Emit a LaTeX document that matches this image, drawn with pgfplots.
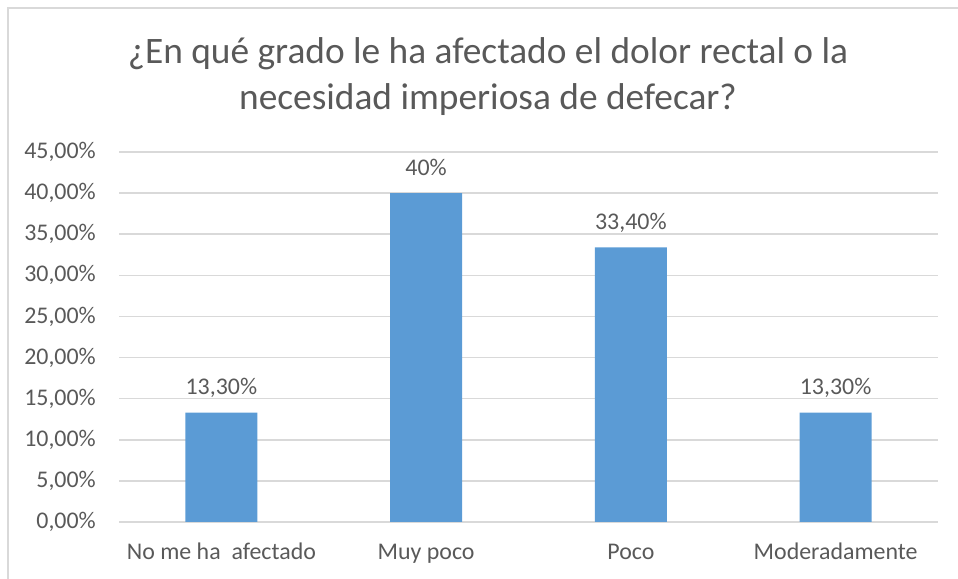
\documentclass[border=0pt]{standalone}
\usepackage{pgfplots}
\pgfplotsset{compat=1.18}
\usepackage{fontspec}
\setmainfont{Carlito}
\definecolor{txt}{HTML}{595959}
\definecolor{barc}{HTML}{5B9BD5}
\definecolor{gridc}{HTML}{D9D9D9}
\begin{document}
\begin{tikzpicture}[x=1bp,y=1bp]
\useasboundingbox (0,0) rectangle (958,579);
\draw[gridc, line width=1.5bp] (8,0) -- (8,571) -- (958,571);
\node[txt, font=\fontsize{37.5}{46}\selectfont, anchor=base, inner sep=0] at (488,515) {¿En qué grado le ha afectado el dolor rectal o la};
\node[txt, font=\fontsize{37.5}{46}\selectfont, anchor=base, inner sep=0] at (488,469) {necesidad imperiosa de defecar?};
\begin{axis}[
  at={(119bp,57bp)}, anchor=south west,
  scale only axis, width=819bp, height=370bp,
  xmin=-0.5, xmax=3.5, ymin=0, ymax=45,
  xtick={0,1,2,3},
  xticklabels={No me ha\ \ afectado, Muy poco, Poco, Moderadamente},
  ytick={0,5,...,45},
  axis line style={draw=none},
  major tick length=0pt,
  ymajorgrids, grid style={gridc, line width=1.5bp},
  /pgf/number format/assume math mode=true,
  yticklabel={\pgfmathprintnumber[fixed,fixed zerofill,precision=2,use comma]{\tick}\%},
  yticklabel style={txt, font=\fontsize{24}{28}\selectfont, anchor=east, inner sep=0pt, xshift=-23bp},
  xticklabel style={txt, font=\fontsize{24}{28}\selectfont, anchor=base, inner sep=0pt, yshift=-38bp},
  ybar, bar width=72bp,
  nodes near coords, point meta=explicit symbolic,
  nodes near coords style={txt, font=\fontsize{24}{28}\selectfont, anchor=base, inner sep=0pt, yshift=18bp},
]
\addplot[fill=barc, draw=none] coordinates {(0,13.3) [13,30\%] (1,40) [40\%] (2,33.4) [33,40\%] (3,13.3) [13,30\%]};
\end{axis}
\end{tikzpicture}
\end{document}
